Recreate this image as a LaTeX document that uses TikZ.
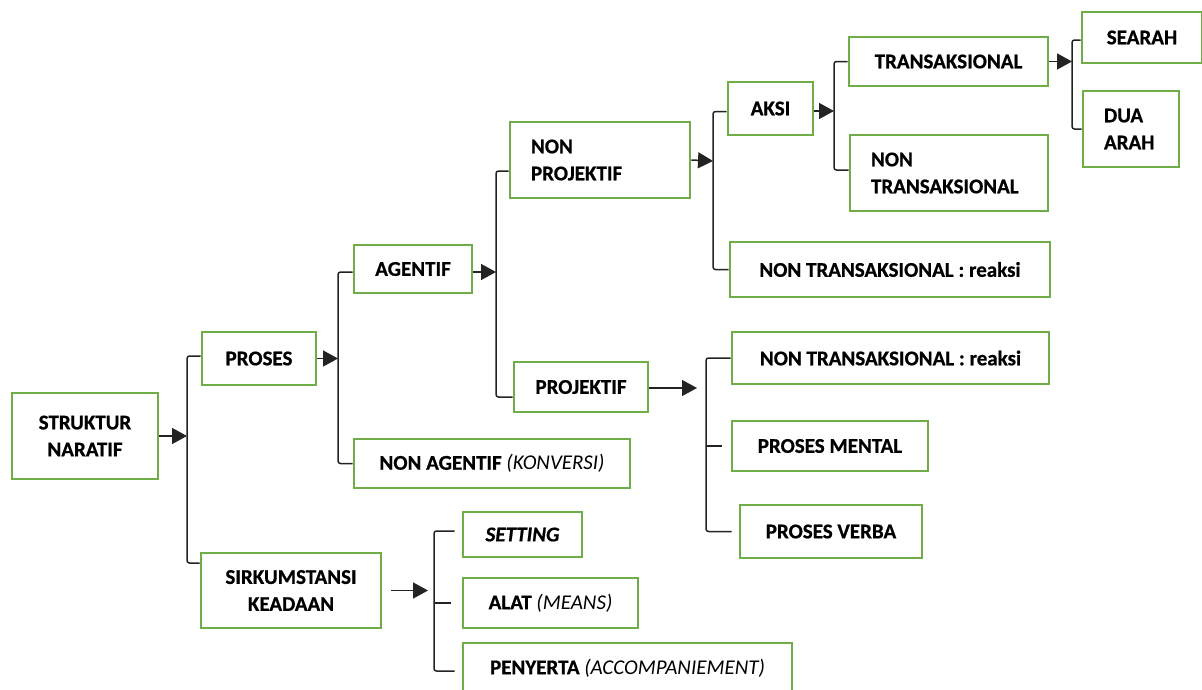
\documentclass[tikz,border=0pt]{standalone}
\usepackage{fontspec}
\setmainfont{Carlito}[BoldFeatures={FakeBold=0.7},BoldItalicFeatures={FakeBold=0.7}]
\usetikzlibrary{arrows.meta,calc}
\definecolor{boxgreen}{RGB}{112,173,71}
\definecolor{linkgray}{RGB}{35,35,35}
\newcommand\lite[1]{{\mdseries\itshape #1}}
\begin{document}
\begin{tikzpicture}[x=1pt,y=-1pt,
  box/.style={draw=boxgreen, line width=2.8pt, fill=white, inner sep=0pt,
    align=center, text=black, font=\fontsize{21}{27}\selectfont\bfseries},
  lbox/.style={box, align=left},
  link/.style={line width=1.5pt, draw=linkgray, rounded corners=2.5pt},
  arr/.style={line width=1.5pt, draw=linkgray, fill=black,
    -{Triangle[length=15pt,width=16pt]}},
]
\useasboundingbox (0,0) rectangle (1202,689);

% boxes
\node[box, minimum width=146pt, minimum height=86pt] (sn) at (85,436) {STRUKTUR\\NARATIF};
\node[box, minimum width=114pt, minimum height=53pt] (pr) at (259,358.5) {PROSES};
\node[box, minimum width=180pt, minimum height=75pt] (sk) at (291,590.5) {SIRKUMSTANSI\\KEADAAN};
\node[box, minimum width=118pt, minimum height=48pt] (ag) at (413,269) {AGENTIF};
\node[box, minimum width=276pt, minimum height=49pt] (na) at (492,463.5) {NON AGENTIF \lite{(KONVERSI)}};
\node[lbox, minimum height=76pt, text width=138pt, inner xsep=21pt] (np) at (600,160) {NON\\PROJEKTIF};
\node[box, minimum width=134pt, minimum height=50pt] (pj) at (581,387) {PROJEKTIF};
\node[box, minimum width=85pt, minimum height=53pt] (ak) at (770.5,108.5) {AKSI};
\node[box, minimum width=199pt, minimum height=49pt] (tr) at (948.5,61.5) {TRANSAKSIONAL};
\node[lbox, minimum height=76pt, text width=156pt, inner xsep=21pt] (nt) at (949,173) {NON\\TRANSAKSIONAL};
\node[box, minimum width=320pt, minimum height=55pt] (r1) at (890,269.5) {NON TRANSAKSIONAL : reaksi};
\node[box, minimum width=120pt, minimum height=51pt] (se) at (1142,37.5) {SEARAH};
\node[lbox, minimum height=76pt, text width=54pt, inner xsep=21pt] (da) at (1131,129) {DUA\\ARAH};
\node[box, minimum width=317pt, minimum height=52pt] (r2) at (890.5,358) {NON TRANSAKSIONAL : reaksi};
\node[box, minimum width=196pt, minimum height=50pt] (pm) at (830,446) {PROSES MENTAL};
\node[box, minimum width=182pt, minimum height=53pt] (pv) at (831,531.5) {PROSES VERBA};
\node[box, minimum width=119pt, minimum height=45pt] (st) at (522.5,534.5) {\textit{SETTING}};
\node[box, minimum width=175pt, minimum height=50pt] (al) at (550.5,603) {ALAT \lite{(MEANS)}};
\node[box, minimum width=329pt, minimum height=50pt] (py) at (627.5,668) {PENYERTA \lite{(ACCOMPANIEMENT)}};

% junction points of the brackets
\coordinate (b1) at (187,436);
\coordinate (b2) at (338,358.5);
\coordinate (b3) at (496,272);
\coordinate (b4) at (713,161);
\coordinate (b5) at (834,111);
\coordinate (b6) at (1072,61.5);
\coordinate (t7) at (697,388);
\coordinate (v7) at (706,446);
\coordinate (t8) at (428,590.5);
\coordinate (v8) at (434,603);

% STRUKTUR NARATIF -> PROSES / SIRKUMSTANSI
\draw[arr] (sn.east) -- (b1);
\draw[link] ([yshift=2.5pt]pr.west) -| (b1) |- ([yshift=27.5pt]sk.west);

% PROSES -> AGENTIF / NON AGENTIF
\draw[arr] (pr.east) -- (b2);
\draw[link] ([yshift=-3pt]ag.west) -| (b2) |- (na.west);

% AGENTIF -> NON PROJEKTIF / PROJEKTIF
\draw[arr] ([yshift=-3pt]ag.east) -- (b3);
\draw[link] ([yshift=-11pt]np.west) -| (b3) |- ([yshift=-10pt]pj.west);

% NON PROJEKTIF -> AKSI / reaksi
\draw[arr] (np.east) -- (b4);
\draw[link] ([yshift=-3pt]ak.west) -| (b4) |- (r1.west);

% AKSI -> TRANSAKSIONAL / NON TRANSAKSIONAL
\draw[arr] ([yshift=-2.5pt]ak.east) -- (b5);
\draw[link] (tr.west) -| (b5) |- ([yshift=3pt]nt.west);

% TRANSAKSIONAL -> SEARAH / DUA ARAH
\draw[arr] (tr.east) -- (b6);
\draw[link] ([yshift=-2.5pt]se.west) -| (b6) |- (da.west);

% PROJEKTIF -> three kinds
\draw[arr] ([yshift=-1pt]pj.east) -- (t7);
\draw[link] (r2.west) -| (v7) |- ([xshift=-7pt]pv.west);
\draw[link] (v7) -- ([xshift=-9pt]pm.west);

% SIRKUMSTANSI -> three kinds
\draw[arr] ([xshift=9pt]sk.east) -- (t8);
\draw[link] ([shift={(-7pt,3.5pt)}]st.west) -| (v8) |- ([shift={(-7pt,-3pt)}]py.west);
\draw[link] (v8) -- ([xshift=-11pt]al.west);
\end{tikzpicture}
\end{document}
